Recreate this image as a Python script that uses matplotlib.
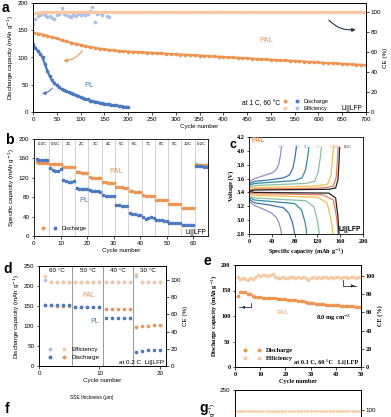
import matplotlib
matplotlib.use("Agg")
import matplotlib.pyplot as plt
import numpy as np
from matplotlib.legend_handler import HandlerTuple
from matplotlib.lines import Line2D

plt.rcParams['font.family'] = 'Liberation Sans'
plt.rcParams['font.size'] = 4.5
plt.rcParams['axes.linewidth'] = 0.6
plt.rcParams['xtick.major.width'] = 0.5
plt.rcParams['ytick.major.width'] = 0.5
plt.rcParams['xtick.major.size'] = 1.8
plt.rcParams['ytick.major.size'] = 1.8
plt.rcParams['xtick.major.pad'] = 1.5
plt.rcParams['ytick.major.pad'] = 1.5

c_pal = '#ef9450'
c_pal_ce = '#f6c9a4'
c_pl = '#4a78c2'
c_pl_ce = '#a9c1e8'
c_dark = '#1e3550'

# ---- panel a : long cycling at 1 C, 60 C
a_pal_cyc = np.arange(0, 701, 10)
a_pal_cap = [145, 144, 142, 140, 137, 135, 132, 130, 127, 125, 123, 121, 119, 118, 116,
             115, 114, 113, 112, 111.5, 111, 110.5, 110, 109.5, 109, 108.5, 108, 107.5,
             107, 106.5, 106, 105.5, 105, 104.5, 104, 103.5, 103, 102.5, 102, 101.5, 101,
             100.5, 100, 99.5, 99, 98.5, 98, 97.5, 97, 96.5, 96, 95.5, 95, 94.5, 94, 93.5,
             93, 92.5, 92, 91.5, 91, 90.5, 90, 89.5, 89, 88.5, 88, 87.5, 87, 86.5, 86]
a_pal_ce = [97.8, 99.0, 99.4] + [99.6] * 68
a_pl_cyc = np.arange(0, 201, 5)
a_pl_cap = [124, 118, 112, 107, 100, 88, 76, 66, 58, 53, 49, 45, 42, 40, 38, 36, 35, 33,
            31, 29, 27, 25, 24, 23, 21, 20, 19, 18, 17, 16, 15, 14.5, 14, 13, 12.5, 12,
            11, 10.5, 10, 9.5, 9]
a_pl_ce_cyc = np.arange(0, 161, 5)
a_pl_ce = [88, 93, 96, 97, 98, 97, 95, 96, 94, 93, 97, 98, 104, 98, 97, 96, 95, 97, 96,
           98, 97, 99, 97, 98, 101, 105, 90, 98, 99, 97, 100, 96, 95]

# ---- panel b : rate capability
b_rates = ['0.2C', '0.5C', '1C', '2C', '3C', '4C', '5C', '6C', '7C', '8C', '9C', '10C', '0.2C']
b_cyc = np.arange(1, 66)
b_pal = [152, 151, 151, 150, 150, 149, 149, 148, 148, 148, 143, 143, 142, 142, 142,
         131, 131, 130, 130, 130, 121, 120, 120, 119, 119, 111, 111, 110, 110, 110,
         102, 101, 101, 100, 100, 92, 92, 91, 91, 91, 84, 83, 83, 82, 82,
         75, 75, 74, 74, 74, 67, 66, 66, 66, 65, 58, 58, 57, 57, 57,
         148, 147, 147, 147, 146]
b_pl = [158, 157, 157, 156, 156, 140, 137, 135, 133, 138, 116, 113, 112, 112, 113,
        99, 97, 96, 96, 97, 95, 93, 92, 92, 91, 84, 83, 83, 82, 82,
        64, 63, 62, 62, 61, 47, 46, 45, 44, 44, 40, 35, 37, 40, 38,
        33, 32, 32, 31, 31, 27, 27, 26, 26, 26, 23, 23, 22, 22, 22,
        145, 144, 144, 143, 143]

# ---- panel c : charge / discharge profiles of PAL
c_labels = ['10C', '7C', '5C', '3C', '1C', '0.5C', '0.2C']
c_colors = ['#9a8bcc', '#3b74b4', '#2f8f9c', '#86c3a0', '#f0c24a', '#ef7f5e', '#222222']
c_chg_q = [[0, 2, 10, 25, 40, 47, 52, 55, 57],
           [0, 2, 10, 35, 60, 71, 77, 81, 83],
           [0, 2, 10, 45, 80, 93, 99, 103, 105],
           [0, 2, 10, 55, 100, 115, 121, 125, 127],
           [0, 2, 10, 65, 120, 138, 144, 146.5, 148],
           [0, 2, 10, 70, 130, 148, 153, 155, 156],
           [0, 2, 10, 75, 140, 152, 156, 158, 159]]
c_chg_v = [[3.50, 3.56, 3.60, 3.64, 3.68, 3.72, 3.80, 3.93, 4.05],
           [3.49, 3.53, 3.56, 3.58, 3.61, 3.65, 3.75, 3.92, 4.05],
           [3.47, 3.51, 3.53, 3.55, 3.57, 3.61, 3.72, 3.91, 4.05],
           [3.45, 3.48, 3.50, 3.515, 3.53, 3.56, 3.68, 3.90, 4.05],
           [3.43, 3.46, 3.47, 3.48, 3.495, 3.52, 3.65, 3.88, 4.05],
           [3.41, 3.44, 3.45, 3.455, 3.465, 3.49, 3.62, 3.86, 4.05],
           [3.39, 3.42, 3.435, 3.44, 3.445, 3.465, 3.58, 3.85, 4.05]]
c_dis_q = [[0, 2, 10, 25, 40, 48, 53, 56, 57],
           [0, 2, 10, 35, 60, 70, 76, 79, 80],
           [0, 2, 10, 45, 80, 92, 98, 100.5, 101],
           [0, 2, 10, 55, 100, 114, 120, 122.5, 123],
           [0, 2, 10, 65, 120, 137, 144, 146.5, 147],
           [0, 2, 10, 70, 130, 148, 154, 155.5, 156],
           [0, 2, 10, 75, 140, 152, 156, 157.5, 158]]
c_dis_v = [[3.31, 3.26, 3.21, 3.16, 3.10, 3.04, 2.95, 2.86, 2.80],
           [3.33, 3.29, 3.25, 3.22, 3.18, 3.10, 2.97, 2.86, 2.80],
           [3.35, 3.32, 3.29, 3.265, 3.24, 3.15, 2.98, 2.86, 2.80],
           [3.37, 3.34, 3.32, 3.30, 3.28, 3.19, 2.99, 2.86, 2.80],
           [3.39, 3.37, 3.355, 3.345, 3.33, 3.25, 3.00, 2.86, 2.80],
           [3.405, 3.39, 3.38, 3.375, 3.365, 3.29, 3.02, 2.86, 2.80],
           [3.42, 3.41, 3.40, 3.395, 3.39, 3.32, 3.05, 2.86, 2.80]]
c_label_x = [57, 84, 101, 121, 144, 155, 174]

# ---- panel d : temperature dependence at 0.2 C
d_temps = ['60 °C', '50 °C', '40 °C', '30 °C']
d_cyc = np.arange(1, 21)
d_pal_cap = [152, 152, 151, 151, 151, 148, 148, 148, 147, 147,
             142, 142, 142, 142, 142, 98, 101, 101, 102, 102]
d_pl_cap = [153, 153, 152, 152, 152, 148, 147, 147, 147, 147,
            121, 121, 121, 121, 121, 35, 38, 39, 39, 40]
d_pal_ce = [104, 97, 97, 97, 97, 98, 97, 97, 97, 97,
            97, 97, 97, 97, 97, 107, 97, 97, 97, 97]
d_pl_ce = [100, 97, 97, 97, 97, 97, 97, 97, 97, 97,
           97, 97, 97, 97, 97, 104, 97, 97, 97, 97]

# ---- panel e : high loading at 0.1 C
e_cyc = np.arange(1, 51)
e_cap = [140, 147, 148, 147, 144, 143, 139, 138, 137, 137, 136, 136, 136, 135, 135,
         135, 134, 134, 133, 133, 132, 132, 131, 131, 130, 130, 129, 127, 126, 125,
         125, 124, 124, 123, 123, 122, 122, 122, 121, 121, 121, 120, 120, 120, 119,
         119, 119, 118, 118, 118]
e_ce = [99, 97, 98, 97, 96, 98, 97, 99, 101, 100, 101, 101, 100, 101, 102, 99, 98, 98,
        99, 98, 98, 99, 99, 98, 99, 98, 99, 98, 95, 98, 99, 98, 99, 98, 99, 99, 98, 99,
        98, 99, 99, 98, 99, 99, 98, 99, 99, 98, 99, 99]

# ---- panel g (cut off at the bottom)
g_cyc = np.arange(0, 201, 5)
g_ce = [99] * 41

fig = plt.figure(figsize=(3.91, 4.17), dpi=100)


def px(l, t, r, b):
    return [l / 391, 1 - b / 417, (r - l) / 391, (b - t) / 417]


def disch_eff_legend(ax, pairs, labels, **kw):
    handles = []
    for (ca, cb) in pairs:
        h1 = Line2D([], [], ls='none', marker='o', ms=1.8, color=ca)
        h2 = Line2D([], [], ls='none', marker='o', ms=1.8, color=cb)
        handles.append((h1, h2))
    ax.legend(handles, labels, handler_map={tuple: HandlerTuple(ndivide=None, pad=1.5)},
              frameon=False, handlelength=3, handletextpad=0.8, labelspacing=0.4,
              borderaxespad=0.2, **kw)


# ================= a =================
ax = fig.add_axes(px(33, 3, 366, 112))
ax2 = ax.twinx()
ax.plot(a_pal_cyc, a_pal_cap, '-o', color=c_pal, lw=1.6, ms=1.6)
ax.plot(a_pl_cyc, a_pl_cap, '-o', color=c_pl, lw=1.6, ms=1.6)
ax2.plot(a_pl_ce_cyc, a_pl_ce, 'o', color=c_pl_ce, ms=1.6)
ax2.plot(a_pal_cyc, a_pal_ce, '-o', color=c_pal_ce, lw=2.2, ms=1.6)
ax.set_xlim(0, 700)
ax.set_ylim(0, 200)
ax2.set_ylim(0, 109)
ax.set_xticks(range(0, 701, 50))
ax.set_yticks([0, 50, 100, 150, 200])
ax2.set_yticks([0, 20, 40, 60, 80, 100])
ax.set_xlabel('Cycle number', labelpad=1.5)
ax.set_ylabel('Discharge capacity (mAh g$^{-1}$)', labelpad=1.5)
ax2.set_ylabel('CE (%)', labelpad=1.5)
ax.text(490, 128, 'PAL', color=c_pal, fontsize=5.5, ha='center')
ax.text(117, 46, 'PL', color=c_pl, fontsize=5.5, ha='center')
ax.annotate('', xy=(58, 94), xytext=(107, 117),
            arrowprops=dict(arrowstyle='-|>', color=c_pal, lw=0.8, mutation_scale=5,
                            connectionstyle='arc3,rad=-0.3'))
ax.annotate('', xy=(13, 34), xytext=(44, 48),
            arrowprops=dict(arrowstyle='-|>', color=c_pl, lw=0.8, mutation_scale=5,
                            connectionstyle='arc3,rad=-0.3'))
ax2.annotate('', xy=(684, 83), xytext=(618, 94),
             arrowprops=dict(arrowstyle='-|>', color=c_dark, lw=0.8, mutation_scale=5,
                             connectionstyle='arc3,rad=0.3'))
ax.text(480, 12, 'at 1 C, 60 °C', ha='center', fontsize=4.8)
ax.text(693, 4, 'Li||LFP', ha='right', fontsize=4.8)
disch_eff_legend(ax, [(c_pal, c_pl), (c_pal_ce, c_pl_ce)], ['Discharge', 'Efficiency'],
                 loc='lower left', bbox_to_anchor=(0.74, -0.02), fontsize=4)
fig.text(0.004, 0.972, 'a', fontsize=10, fontweight='bold')

# ================= b =================
ax = fig.add_axes(px(34, 139, 208, 236))
for k in range(1, 13):
    ax.axvline(5 * k + 0.5, color='#b0b0b0', lw=0.4)
for k, r in enumerate(b_rates):
    ax.text(5 * k + 3, 190, r, ha='center', va='center', fontsize=3.2)
ax.plot(b_cyc, b_pal, 'o', color=c_pal, ms=1.6)
ax.plot(b_cyc, b_pl, 'o', color=c_pl, ms=1.6)
ax.set_xlim(0, 65.5)
ax.set_ylim(0, 200)
ax.set_xticks(range(0, 61, 10))
ax.set_yticks(range(0, 201, 40))
ax.set_xlabel('Cycle number', labelpad=1.5)
ax.set_ylabel('Specific capacity (mAh g$^{-1}$)', labelpad=1.5)
ax.text(31, 130, 'PAL', color=c_pal, fontsize=5.5, ha='center')
ax.text(19, 70, 'PL', color=c_pl, fontsize=5.5, ha='center')
ax.text(65, 4, 'Li||LFP', ha='right', fontsize=4.8)
disch_eff_legend(ax, [(c_pal, c_pl)], ['Discharge'], loc='lower left',
                 bbox_to_anchor=(0.02, 0.02), fontsize=4)
fig.text(0.012, 0.655, 'b', fontsize=10, fontweight='bold')

# ================= c =================
serif = 'Liberation Serif'
ax = fig.add_axes(px(249, 137, 363, 234))
for k in range(len(c_labels)):
    ax.plot(c_chg_q[k], c_chg_v[k], color=c_colors[k], lw=0.9)
    ax.plot(c_dis_q[k], c_dis_v[k], color=c_colors[k], lw=0.9)
    ax.text(c_label_x[k], 4.06, c_labels[k], color=c_colors[k], fontsize=3.2,
            ha='center', va='center', family=serif)
ax.set_xlim(0, 200)
ax.set_ylim(2.8, 4.2)
ax.set_xticks(range(0, 201, 40))
ax.set_yticks(np.arange(2.8, 4.21, 0.2))
ax.yaxis.set_major_formatter(matplotlib.ticker.FormatStrFormatter('%.1f'))
for t in ax.get_xticklabels() + ax.get_yticklabels():
    t.set_family(serif)
    t.set_fontweight('bold')
ax.set_xlabel('Specific capacity (mAh g$^{-1}$)', family=serif, fontweight='bold', labelpad=1.5)
ax.set_ylabel('Voltage (V)', family=serif, fontweight='bold', labelpad=1.5)
ax.text(4, 4.13, 'PAL', color=c_pal, fontsize=5, fontweight='bold')
ax.text(196, 2.84, 'Li||LFP', ha='right', fontsize=4.8, fontweight='bold')
fig.text(0.588, 0.645, 'c', fontsize=9, fontweight='bold')

# ================= d =================
ax = fig.add_axes(px(39, 266, 166, 366))
ax2 = ax.twinx()
for xv in [5.5, 10.5, 15.5]:
    ax.axvline(xv, color='#707070', lw=0.5)
for k, t in enumerate(d_temps):
    ax.text(3 + 5 * k, 238, t, ha='center', va='center', fontsize=4.5)
ax.plot(d_cyc, d_pal_cap, 'o', color=c_pal, ms=1.6)
ax.plot(d_cyc, d_pl_cap, 'o', color=c_pl, ms=1.6)
ax2.plot(d_cyc, d_pl_ce, 'o', color=c_pl_ce, ms=1.6)
ax2.plot(d_cyc, d_pal_ce, 'o', color=c_pal_ce, ms=1.6)
ax.set_xlim(0, 21)
ax.set_ylim(0, 250)
ax2.set_ylim(0, 116)
ax.set_xticks([0, 10, 20])
ax.set_yticks(range(0, 251, 50))
ax2.set_yticks(range(0, 101, 20))
ax.set_xlabel('Cycle number', labelpad=1.5)
ax.set_ylabel('Discharge capacity (mAh g$^{-1}$)', labelpad=1.5)
ax2.set_ylabel('CE (%)', labelpad=1.5)
ax.text(8.2, 172, 'PAL', color=c_pal, fontsize=5, ha='center')
ax.text(9.3, 107, 'PL', color=c_pl, fontsize=5, ha='center')
ax.text(20.7, 6, 'at 0.2 C  Li||LFP', ha='right', fontsize=4.5)
disch_eff_legend(ax, [(c_pl_ce, c_pal_ce), (c_pl, c_pal)], ['Efficiency', 'Discharge'],
                 loc='lower left', bbox_to_anchor=(0.04, 0.02), fontsize=4.5)
fig.text(0.008, 0.345, 'd', fontsize=10, fontweight='bold')

# ================= e =================
ax = fig.add_axes(px(235, 265, 361, 367))
ax2 = ax.twinx()
ax.plot(e_cyc, e_cap, 'o', color=c_pal, ms=1.6)
ax2.plot(e_cyc, e_ce, 'o', color=c_pal_ce, ms=1.6)
ax.set_xlim(0, 50)
ax.set_ylim(0, 200)
ax2.set_ylim(0, 112)
ax.set_xticks(range(0, 51, 10))
ax.set_yticks(range(0, 201, 50))
ax2.set_yticks(range(0, 101, 20))
for a_ in (ax, ax2):
    for t in a_.get_xticklabels() + a_.get_yticklabels():
        t.set_family(serif)
        t.set_fontweight('bold')
ax.set_xlabel('Cycle number', family=serif, fontweight='bold', labelpad=1.5)
ax.set_ylabel('Discharge capacity (mAh g$^{-1}$)', family=serif, fontweight='bold', labelpad=1.5)
ax2.set_ylabel('CE (%)', family=serif, fontweight='bold', labelpad=1.5)
ax.text(19, 104, 'PAL', color=c_pal, fontsize=5, ha='center', family=serif)
ax.text(39, 92, '8.0 mg cm$^{-2}$', ha='center', fontsize=4.5, family=serif, fontweight='bold')
ax.plot([6.5, 6.5, 1.5], [126, 117, 117], color=c_dark, lw=0.6)
ax.annotate('', xy=(1.5, 117), xytext=(4, 117),
            arrowprops=dict(arrowstyle='-|>', color=c_dark, lw=0.6, mutation_scale=4))
ax2.plot([43, 43, 48], [95, 89, 89], color=c_dark, lw=0.6)
ax2.annotate('', xy=(48.5, 89), xytext=(46, 89),
             arrowprops=dict(arrowstyle='-|>', color=c_dark, lw=0.6, mutation_scale=4))
ax.text(49, 5, 'at 0.1 C, 60 °C   Li||LFP', ha='right', fontsize=4.5, family=serif,
        fontweight='bold')
disch_eff_legend(ax, [(c_pal, c_pal), (c_pal_ce, c_pal_ce)], ['Discharge', 'Efficiency'],
                 loc='lower left', bbox_to_anchor=(0.03, 0.02),
                 prop={'family': serif, 'weight': 'bold', 'size': 4.5})
fig.text(0.52, 0.365, 'e', fontsize=10, fontweight='bold')

# ================= f / g (cut off) =================
fig.text(0.012, 0.01, 'f', fontsize=10, fontweight='bold')
fig.text(0.235, 0.043, 'SSE thickness (μm)', ha='center', fontsize=3.5)
fig.text(0.51, 0.013, 'g', fontsize=10, fontweight='bold')
ax = fig.add_axes(px(235, 390, 361, 500))
ax2 = ax.twinx()
ax2.plot(g_cyc, g_ce, '--o', color=c_pal_ce, lw=0.6, ms=1.0)
ax.set_xlim(0, 200)
ax.set_ylim(0, 250)
ax2.set_ylim(0, 122)
ax.set_yticks([250])
ax2.set_yticks([100])
ax.set_xticks([])
ax.set_ylabel('Discharge capacity (mAh g$^{-1}$)', labelpad=1.5)

fig.savefig('out.png', dpi=100)
